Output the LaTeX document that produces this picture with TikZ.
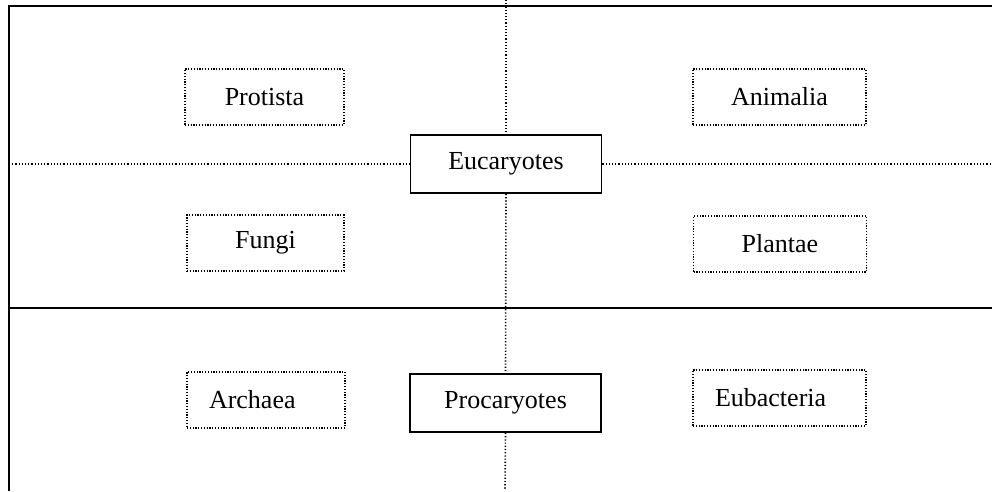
\documentclass[tikz,border=0pt]{standalone}
\usepackage{fontspec}
\setmainfont{Liberation Serif}
\usetikzlibrary{positioning}

\begin{document}
\begin{tikzpicture}[x=1pt, y=-1pt
        , every node/.style={font=\fontsize{26}{30}\selectfont, inner sep=0pt}
        , kingdom/.style={draw, line width=1.6pt, dash pattern=on 1.2pt off 1.6pt, minimum height=56pt}
        , leftkingdom/.style={kingdom, align=left, inner xsep=22pt}
        , domainbox/.style={draw, line width=1.8pt, minimum width=191pt, minimum height=58pt}
        , dotline/.style={line width=1.6pt, dash pattern=on 1.2pt off 2pt}
        , frameline/.style={line width=2pt}
        ]
        \useasboundingbox (0,0) rectangle (992,491);

        \node[domainbox] (euc) at (506,164) {Eucaryotes};
        \node[domainbox] (proc) at (505.5,403) {Procaryotes};

        \node (protista) [kingdom, minimum width=159pt] at (264.5,97) {Protista};
        \node (animalia) [kingdom, minimum width=173pt] at (779.5,97) {Animalia};
        \node (fungi) [kingdom, minimum width=157pt] at (265.5,243) {Fungi};
        \node (plantae) [kingdom, minimum width=173pt] at (780,244) {Plantae};
        \node (archaea) [leftkingdom, text width=114pt] at (266,400) {Archaea};
        \node (eubact) [leftkingdom, text width=129pt] at (779.5,398) {Eubacteria};

        \coordinate (topend) at (506,0);
        \coordinate (botend) at (505,489);
        \coordinate (leftend) at (9,164);
        \coordinate (rightend) at (992,164);

        \draw[dotline] (topend) -- (euc.north);
        \draw[dotline] (euc.south) -- (proc.north);
        \draw[dotline] (proc.south) -- (botend);
        \draw[dotline] (leftend) -- (euc.west);
        \draw[dotline] (euc.east) -- (rightend);

        % frame
        \draw[frameline] (992,6) -- (9,6) -- (9,491);
        \draw[frameline] (9,308) -- (992,308);
    \end{tikzpicture}
\end{document}
